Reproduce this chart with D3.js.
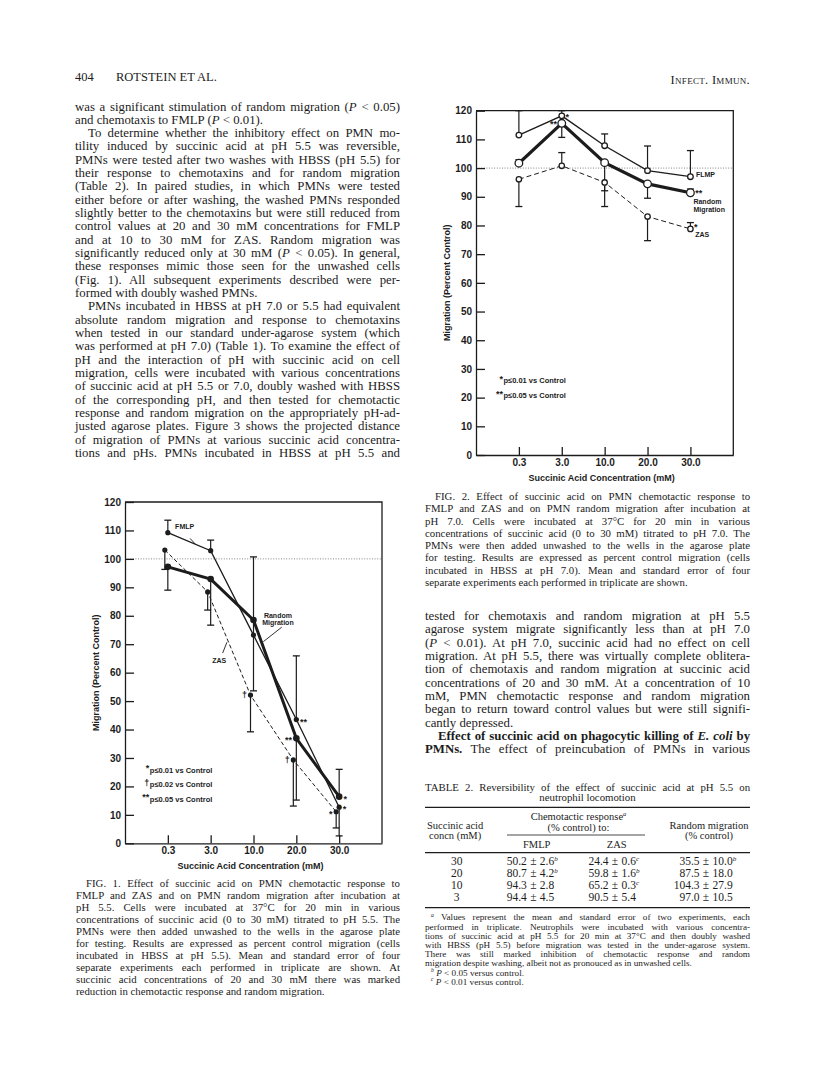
<!DOCTYPE html>
<html>
<head>
<meta charset="utf-8">
<script src="https://cdn.jsdelivr.net/npm/d3@7"></script>
<style>
  html, body { margin: 0; padding: 0; background: #fff; }
  svg { display: block; }
  .serif { font-family: "Liberation Serif", "Times New Roman", serif; fill: #1c1c1c; }
  .sans { font-family: "Liberation Sans", Arial, sans-serif; font-weight: bold; fill: #1c1c1c; }
</style>
</head>
<body>
<div id="page"></div>
<script>
// ---- chart data ----
const cats = ['0.3', '3.0', '10.0', '20.0', '30.0'];
const yTicks = [0, 10, 20, 30, 40, 50, 60, 70, 80, 90, 100, 110, 120];

// Fig. 1, pH 5.5 (percent control, error bar up / down, significance mark)
const fig1Fmlp = [109.2, 102.9, 73.2, 43.5, 12.7];
const fig1FmlpUp = [4.4, 3.7, 27.5, 22.4, 0];
const fig1FmlpDown = [0, 0, 19.6, 0, 10.1];
const fig1FmlpSig = ['', '', '', '**', '*'];
const fig1Random = [97.2, 92.9, 78.5, 36.9, 16.4];
const fig1RandomUp = [0, 0, 0, 0, 9.6];
const fig1RandomDown = [8.2, 16.2, 0, 21.7, 0];
const fig1RandomSig = ['', '', '', '**', '*'];
const fig1Zas = [103.1, 88.4, 52.1, 29.3, 11.1];
const fig1ZasUp = [0, 0, 0, 0, 0];
const fig1ZasDown = [6.8, 6.4, 12.9, 16.2, 5.7];
const fig1ZasSig = ['', '', '†', '†', '*'];

// Fig. 2, pH 7.0
const fig2Fmlp = [111.5, 118.2, 107.8, 99.1, 97.0];
const fig2FmlpUp = [8.5, 1.8, 4.1, 8.6, 9.1];
const fig2FmlpDown = [0, 0, 0, 0, 0];
const fig2FmlpSig = ['', '*', '', '', ''];
const fig2Random = [101.7, 115.6, 101.9, 94.5, 91.4];
const fig2RandomUp = [1.2, 0, 0, 0, 1.3];
const fig2RandomDown = [0, 4.9, 9.8, 5.0, 0];
const fig2RandomSig = ['', '**', '', '', '**'];
const fig2Zas = [96.1, 100.8, 95.0, 83.1, 78.8];
const fig2ZasUp = [0, 4.6, 0, 0, 2.2];
const fig2ZasDown = [9.5, 0, 8.4, 8.4, 0];
const fig2ZasSig = ['', '', '', '', '*'];

const fig1Legend = [['*', 'p≤0.01 vs Control'], ['†', 'p≤0.02 vs Control'], ['**', 'p≤0.05 vs Control']];
const fig2Legend = [['*', 'p≤0.01 vs Control'], ['**', 'p≤0.05 vs Control']];

// Table 2
const tableConc = ['30', '20', '10', '3'];
const tableFmlpMean = [50.2, 80.7, 94.3, 94.4];
const tableFmlpSe = [2.6, 4.2, 2.8, 4.5];
const tableFmlpSig = ['b', 'b', '', ''];
const tableZasMean = [24.4, 59.8, 65.2, 90.5];
const tableZasSe = [0.6, 1.6, 0.3, 5.4];
const tableZasSig = ['c', 'b', 'c', ''];
const tableRandomMean = [35.5, 87.5, 104.3, 97.0];
const tableRandomSe = [10.0, 18.0, 27.9, 10.5];
const tableRandomSig = ['b', '', '', ''];

// ---- page text ('\t' = indent, '|' = paragraph end, ~italic~, ^bold^, {sup}) ----
const leftText = [
  'was a significant stimulation of random migration (~P~ < 0.05)',
  'and chemotaxis to FMLP (~P~ < 0.01).|',
  '\tTo determine whether the inhibitory effect on PMN mo-',
  'tility induced by succinic acid at pH 5.5 was reversible,',
  'PMNs were tested after two washes with HBSS (pH 5.5) for',
  'their response to chemotaxins and for random migration',
  '(Table 2). In paired studies, in which PMNs were tested',
  'either before or after washing, the washed PMNs responded',
  'slightly better to the chemotaxins but were still reduced from',
  'control values at 20 and 30 mM concentrations for FMLP',
  'and at 10 to 30 mM for ZAS. Random migration was',
  'significantly reduced only at 30 mM (~P~ < 0.05). In general,',
  'these responses mimic those seen for the unwashed cells',
  '(Fig. 1). All subsequent experiments described were per-',
  'formed with doubly washed PMNs.|',
  '\tPMNs incubated in HBSS at pH 7.0 or 5.5 had equivalent',
  'absolute random migration and response to chemotaxins',
  'when tested in our standard under-agarose system (which',
  'was performed at pH 7.0) (Table 1). To examine the effect of',
  'pH and the interaction of pH with succinic acid on cell',
  'migration, cells were incubated with various concentrations',
  'of succinic acid at pH 5.5 or 7.0, doubly washed with HBSS',
  'of the corresponding pH, and then tested for chemotactic',
  'response and random migration on the appropriately pH-ad-',
  'justed agarose plates. Figure 3 shows the projected distance',
  'of migration of PMNs at various succinic acid concentra-',
  'tions and pHs. PMNs incubated in HBSS at pH 5.5 and'
];
const rightText = [
  'tested for chemotaxis and random migration at pH 5.5',
  'agarose system migrate significantly less than at pH 7.0',
  '(~P~ < 0.01). At pH 7.0, succinic acid had no effect on cell',
  'migration. At pH 5.5, there was virtually complete oblitera-',
  'tion of chemotaxis and random migration at succinic acid',
  'concentrations of 20 and 30 mM. At a concentration of 10',
  'mM, PMN chemotactic response and random migration',
  'began to return toward control values but were still signifi-',
  'cantly depressed.|',
  '\t^Effect of succinic acid on phagocytic killing of ~E. coli~ by^',
  '^PMNs.^ The effect of preincubation of PMNs in various'
];
const fig1Caption = [
  '\tFIG. 1. Effect of succinic acid on PMN chemotactic response to',
  'FMLP and ZAS and on PMN random migration after incubation at',
  'pH 5.5. Cells were incubated at 37°C for 20 min in various',
  'concentrations of succinic acid (0 to 30 mM) titrated to pH 5.5. The',
  'PMNs were then added unwashed to the wells in the agarose plate',
  'for testing. Results are expressed as percent control migration (cells',
  'incubated in HBSS at pH 5.5). Mean and standard error of four',
  'separate experiments each performed in triplicate are shown. At',
  'succinic acid concentrations of 20 and 30 mM there was marked',
  'reduction in chemotactic response and random migration.|'
];
const fig2Caption = [
  '\tFIG. 2. Effect of succinic acid on PMN chemotactic response to',
  'FMLP and ZAS and on PMN random migration after incubation at',
  'pH 7.0. Cells were incubated at 37°C for 20 min in various',
  'concentrations of succinic acid (0 to 30 mM) titrated to pH 7.0. The',
  'PMNs were then added unwashed to the wells in the agarose plate',
  'for testing. Results are expressed as percent control migration (cells',
  'incubated in HBSS at pH 7.0). Mean and standard error of four',
  'separate experiments each performed in triplicate are shown.|'
];
const tableNotes = [
  '\t{a} Values represent the mean and standard error of two experiments, each',
  'performed in triplicate. Neutrophils were incubated with various concentra-',
  'tions of succinic acid at pH 5.5 for 20 min at 37°C and then doubly washed',
  'with HBSS (pH 5.5) before migration was tested in the under-agarose system.',
  'There was still marked inhibition of chemotactic response and random',
  'migration despite washing, albeit not as pronouced as in unwashed cells.|',
  '\t{b} ~P~ < 0.05 versus control.|',
  '\t{c} ~P~ < 0.01 versus control.|'
];

const svg = d3.select('#page').append('svg')
  .attr('width', 816)
  .attr('height', 1082)
  .style('background', '#fff');

// split a marked-up string into styled runs
function runs(str){
  const out = [];
  let cur = '', it = false, bd = false, sup = false;
  for (const ch of str){
    if (ch === '~' || ch === '^' || ch === '{' || ch === '}'){
      if (cur) out.push({t: cur, it, bd, sup});
      cur = '';
      if (ch === '~') it = !it;
      else if (ch === '^') bd = !bd;
      else sup = (ch === '{');
    } else cur += ch;
  }
  if (cur) out.push({t: cur, it, bd, sup});
  return out;
}

function textLine(str, x, y, size, width, anchor){
  const t = svg.append('text')
    .attr('class', 'serif')
    .attr('x', x)
    .attr('y', y)
    .style('font-size', size + 'px');
  if (anchor) t.attr('text-anchor', anchor);
  let wasSup = false;
  const rs = runs(str);
  rs.forEach(r => {
    const s = t.append('tspan').text(r.t);
    if (r.it) s.style('font-style', 'italic');
    if (r.bd) s.style('font-weight', 'bold');
    if (r.sup){
      s.attr('dy', -size * 0.38).style('font-size', (size * 0.62) + 'px').style('font-style', 'italic');
    } else if (wasSup){
      s.attr('dy', size * 0.38);
    }
    wasSup = r.sup;
  });
  // justify by stretching the word spaces (squeeze letters a bit if a line is too long)
  if (width){
    const plain = rs.map(r => r.t).join('');
    const n = (plain.match(/ /g) || []).length;
    const w = t.node().getComputedTextLength();
    if (n){
      let ws = (width - w) / n;
      if (ws < -1.2){
        const rest = (ws + 1.2) * n;
        ws = -1.2;
        t.attr('letter-spacing', (rest / plain.length).toFixed(3));
      }
      t.attr('word-spacing', ws.toFixed(2));
    }
  }
  return t;
}

function block(lines, o){
  lines.forEach((raw, k) => {
    let s = raw, indent = 0, justify = true;
    if (s.startsWith('\t')){ s = s.slice(1); indent = o.indent; }
    if (s.endsWith('|')){ s = s.slice(0, -1); justify = false; }
    textLine(s, o.x + indent, o.y + k * o.lh, o.size, justify ? o.width - indent : 0);
  });
}

// ---- running head ----
textLine('404', 75, 81, 12.5);
textLine('ROTSTEIN  ET  AL.', 116, 81, 12.5);
svg.append('text').attr('class', 'serif')
  .attr('x', 750).attr('y', 84)
  .attr('text-anchor', 'end')
  .style('font-size', '12.5px')
  .style('font-variant', 'small-caps')
  .style('letter-spacing', '0.3px')
  .text('Infect. Immun.');

block(leftText, {x: 75, y: 110.5, lh: 13.33, size: 12.8, width: 325, indent: 13});
block(rightText, {x: 425, y: 620, lh: 13.33, size: 12.8, width: 325, indent: 13});
block(fig1Caption, {x: 76, y: 886.5, lh: 12.04, size: 10.8, width: 324, indent: 10});
block(fig2Caption, {x: 425, y: 500, lh: 12.29, size: 10.8, width: 325, indent: 10});

// ---- charts ----
function drawChart(c){
  const x = d3.scalePoint().domain(cats).range([c.left, c.right]).padding(1);
  const y = d3.scaleLinear().domain([0, 120]).range([c.bottom, c.top]);
  const xi = i => x(cats[0]) + i * x.step();
  const ink = '#1c1c1c';
  const g = svg.append('g');

  // control line at 100
  g.append('line')
    .attr('x1', c.left).attr('x2', c.right)
    .attr('y1', y(100)).attr('y2', y(100))
    .attr('stroke', '#777').attr('stroke-width', 0.9)
    .attr('stroke-dasharray', '1,1.6');

  // frame top / right
  g.append('path')
    .attr('d', `M${c.left},${c.top}H${c.right}V${c.bottom}`)
    .attr('fill', 'none').attr('stroke', ink).attr('stroke-width', 1.3);

  const yAxis = g.append('g')
    .attr('transform', `translate(${c.left},0)`)
    .call(d3.axisLeft(y).tickValues(yTicks).tickFormat(d3.format('d'))
      .tickSizeInner(-9).tickSizeOuter(0).tickPadding(4));
  const xAxis = g.append('g')
    .attr('transform', `translate(0,${c.bottom})`)
    .call(d3.axisBottom(x).tickSizeInner(-8).tickSizeOuter(0).tickPadding(3.5));
  [yAxis, xAxis].forEach(a => {
    a.attr('font-family', '"Liberation Sans", Arial, sans-serif')
      .attr('font-size', 10).attr('font-weight', 'bold');
    a.selectAll('path, line').attr('stroke', ink).attr('stroke-width', 1.3);
    a.selectAll('text').attr('fill', ink);
  });

  g.append('text').attr('class', 'sans')
    .attr('x', (c.left + c.right) / 2 - 3).attr('y', c.bottom + 26)
    .attr('text-anchor', 'middle').style('font-size', '9px')
    .text('Succinic Acid Concentration (mM)');
  g.append('text').attr('class', 'sans')
    .attr('transform', `translate(${c.left - 29},${(c.top + c.bottom) / 2}) rotate(-90)`)
    .attr('text-anchor', 'middle').attr('dy', '0.35em').style('font-size', '9px')
    .text('Migration (Percent Control)');

  c.series.forEach(s => {
    const px = i => x(cats[i]) + (s.dx || 0);

    // error bars
    s.values.forEach((v, i) => {
      [[s.up[i], 1], [s.down[i], -1]].forEach(([e, k]) => {
        if (!e) return;
        const ye = y(v + k * e);
        g.append('line').attr('x1', px(i)).attr('x2', px(i))
          .attr('y1', y(v)).attr('y2', ye)
          .attr('stroke', ink).attr('stroke-width', 1.2);
        g.append('line').attr('x1', px(i) - 3.5).attr('x2', px(i) + 3.5)
          .attr('y1', ye).attr('y2', ye)
          .attr('stroke', ink).attr('stroke-width', 1.3);
      });
    });

    g.append('path').datum(s.values)
      .attr('d', d3.line().x((d, i) => px(i)).y(d => y(d)))
      .attr('fill', 'none').attr('stroke', ink)
      .attr('stroke-width', s.width)
      .attr('stroke-dasharray', s.dash || null);

    g.selectAll(null).data(s.values).join('circle')
      .attr('cx', (d, i) => px(i)).attr('cy', d => y(d))
      .attr('r', s.r)
      .attr('fill', s.open ? '#fff' : ink)
      .attr('stroke', ink).attr('stroke-width', s.open ? 1.3 : 0);

    // significance marks
    s.values.forEach((v, i) => {
      const mark = s.sig[i];
      if (!mark) return;
      const left = s.sigLeft.includes(i);
      g.append('text').attr('class', 'sans')
        .attr('x', px(i) + (left ? -(s.r + 1) : s.r + 1))
        .attr('y', y(v) + (mark === '†' ? 3 : 5) + (s.sigDy || 0))
        .attr('text-anchor', left ? 'end' : 'start')
        .style('font-size', '9px')
        .text(mark);
    });
  });

  // series labels and leaders
  c.labels.forEach(l => {
    g.append('text').attr('class', 'sans')
      .attr('x', xi(l.i)).attr('y', y(l.v)).attr('dy', '0.35em')
      .attr('text-anchor', l.anchor || 'start')
      .style('font-size', '7px')
      .text(l.text);
  });
  c.leaders.forEach(l => {
    g.append('line')
      .attr('x1', xi(l[0])).attr('y1', y(l[1]))
      .attr('x2', xi(l[2])).attr('y2', y(l[3]))
      .attr('stroke', ink).attr('stroke-width', 0.9);
  });

  // significance key
  c.legend.forEach((d, k) => {
    const ly = y(c.legendV - k * c.legendStep);
    g.append('text').attr('class', 'sans')
      .attr('x', xi(c.legendI) - 0.5).attr('y', ly + 1.5)
      .attr('text-anchor', 'end').style('font-size', '9px')
      .text(d[0]);
    g.append('text').attr('class', 'sans')
      .attr('x', xi(c.legendI)).attr('y', ly).attr('dy', '0.35em')
      .style('font-size', '7.5px')
      .text(d[1]);
  });
}

drawChart({
  left: 125, right: 382, top: 502, bottom: 843.3,
  series: [
    {values: fig1Fmlp, up: fig1FmlpUp, down: fig1FmlpDown, sig: fig1FmlpSig, sigLeft: [],
      width: 1.3, r: 2.6},
    {values: fig1Random, up: fig1RandomUp, down: fig1RandomDown, sig: fig1RandomSig, sigLeft: [3],
      width: 3, r: 3.3},
    {values: fig1Zas, up: fig1ZasUp, down: fig1ZasDown, sig: fig1ZasSig, sigLeft: [2, 3, 4],
      width: 1, r: 2.6, dash: '4,2.5', dx: -3}
  ],
  labels: [
    {text: 'FMLP', i: 0.17, v: 111.5},
    {text: 'Random', i: 2.57, v: 80.2, anchor: 'middle'},
    {text: 'Migration', i: 2.57, v: 77.7, anchor: 'middle'},
    {text: 'ZAS', i: 1.2, v: 64.4, anchor: 'middle'}
  ],
  leaders: [[0.52, 107.2, 0.64, 105.2], [2.66, 76.0, 2.23, 70.9], [1.28, 66.9, 1.38, 70.7]],
  legend: fig1Legend, legendI: -0.42, legendV: 25.8, legendStep: 5.1
});

drawChart({
  left: 476, right: 733.3, top: 110.7, bottom: 455,
  series: [
    {values: fig2Fmlp, up: fig2FmlpUp, down: fig2FmlpDown, sig: fig2FmlpSig, sigLeft: [],
      width: 1.3, r: 2.8, open: true, sigDy: -1},
    {values: fig2Random, up: fig2RandomUp, down: fig2RandomDown, sig: fig2RandomSig, sigLeft: [1],
      width: 3.2, r: 3.8, open: true, sigDy: -1.5},
    {values: fig2Zas, up: fig2ZasUp, down: fig2ZasDown, sig: fig2ZasSig, sigLeft: [],
      width: 1, r: 2.7, open: true, dash: '5,3', sigDy: -4}
  ],
  labels: [
    {text: 'FLMP', i: 4.13, v: 97.6},
    {text: 'Random', i: 4.07, v: 88.2},
    {text: 'Migration', i: 4.07, v: 85.6},
    {text: 'ZAS', i: 4.11, v: 77.0}
  ],
  leaders: [],
  legend: fig2Legend, legendI: -0.36, legendV: 25.9, legendStep: 5.1
});

// ---- Table 2 ----
textLine('TABLE 2. Reversibility of the effect of succinic acid at pH 5.5 on', 425, 790.5, 10.8, 325);
textLine('neutrophil locomotion', 587.5, 801.2, 10.8, 0, 'middle');

const rule = (x1, x2, yy, w) => svg.append('line')
  .attr('x1', x1).attr('x2', x2).attr('y1', yy).attr('y2', yy)
  .attr('stroke', '#1c1c1c').attr('stroke-width', w);
rule(425, 750, 807.3, 1.3);
rule(507, 645, 835, 0.8);
rule(425, 750, 852.7, 1.3);
rule(425, 750, 907.7, 1.3);

textLine('Chemotactic response{a}', 578.5, 820, 10.5, 0, 'middle');
textLine('(% control) to:', 578.5, 830.5, 10.5, 0, 'middle');
textLine('Succinic acid', 427, 828.5, 10.5);
textLine('concn (mM)', 429, 839, 10.5);
textLine('Random migration', 709, 828.5, 10.5, 0, 'middle');
textLine('(% control)', 709, 839, 10.5, 0, 'middle');
textLine('FMLP', 536.7, 847.5, 10.5, 0, 'middle');
textLine('ZAS', 616.7, 847.5, 10.5, 0, 'middle');

function tableCell(mean, se, sig, pm, yy){
  textLine(mean.toFixed(1), pm - 6.5, yy, 11.5, 0, 'end');
  textLine('±', pm, yy, 11.5, 0, 'middle');
  textLine(se.toFixed(1) + (sig ? '{' + sig + '}' : ''), pm + 6.5, yy, 11.5);
}
tableConc.forEach((c, k) => {
  const yy = 865.2 + k * 12.05;
  textLine(c, 456.7, yy, 11.5, 0, 'middle');
  tableCell(tableFmlpMean[k], tableFmlpSe[k], tableFmlpSig[k], 533.3, yy);
  tableCell(tableZasMean[k], tableZasSe[k], tableZasSig[k], 615, yy);
  tableCell(tableRandomMean[k], tableRandomSe[k], tableRandomSig[k], 706, yy);
});

block(tableNotes, {x: 425, y: 920.3, lh: 9.2, size: 9.2, width: 325, indent: 6});
</script>
</body>
</html>
